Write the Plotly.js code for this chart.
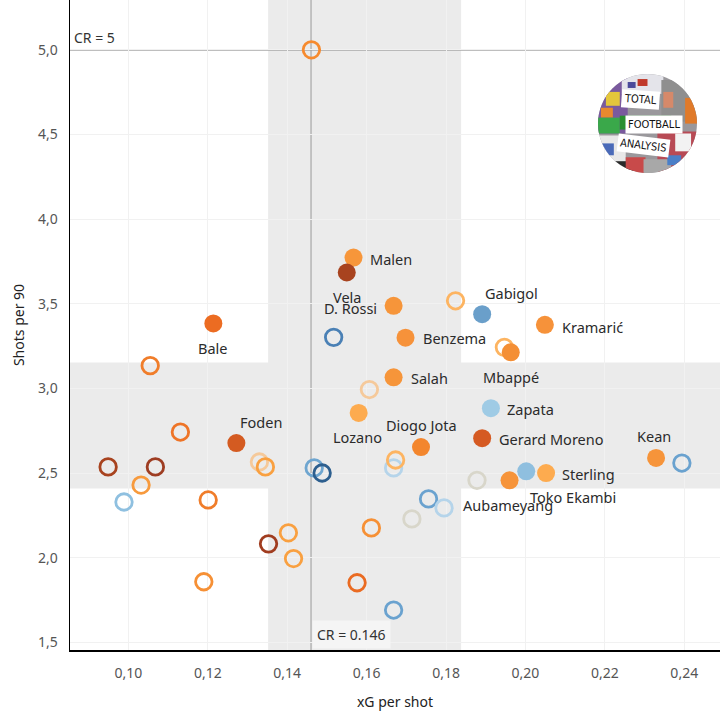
<!DOCTYPE html>
<html>
<head>
<meta charset="utf-8">
<script src="https://cdn.plot.ly/plotly-3.0.1.min.js"></script>
<style>html,body{margin:0;padding:0;background:#fff;}#chart{width:720px;height:721px;}</style>
</head>
<body>
<div id="chart"></div>
<script>
// ---- Data ----
const labeledNames = ["Malen","Vela","D. Rossi","Gabigol","Kramarić","Benzema","Mbappé","Salah","Zapata","Lozano","Diogo Jota","Gerard Moreno","Kean","Sterling","Toko Ekambi","Aubameyang","Bale","Foden"];
const labeledXg = [0.1567,0.1550,0.1668,0.1891,0.2049,0.1698,0.1963,0.1668,0.1913,0.1580,0.1737,0.1891,0.2329,0.2052,0.2002,0.1960,0.1214,0.1272];
const labeledShots = [3.773,3.685,3.488,3.439,3.376,3.300,3.214,3.066,2.884,2.856,2.654,2.707,2.590,2.501,2.511,2.458,3.384,2.678];

const otherXg = [0.1461,0.1055,0.1131,0.0949,0.1068,0.1032,0.0989,0.1201,0.1330,0.1345,0.1190,0.1353,0.1403,0.1416,0.1468,0.1488,0.1517,0.1607,0.1668,0.1673,0.1612,0.1576,0.1668,0.1714,0.1756,0.1795,0.1824,0.1947,0.1878,0.2394];
const otherShots = [5.0,3.135,2.743,2.537,2.537,2.430,2.330,2.342,2.566,2.537,1.859,2.083,2.148,1.996,2.531,2.501,3.302,2.994,2.531,2.578,2.177,1.853,1.692,2.230,2.348,2.295,3.518,3.243,2.458,2.560];

const crXg = 0.146;
const crShots = 5;
const bandXg = [0.1352, 0.1838];
const bandShots = [2.409, 3.153];

const xTickVals = [0.10,0.12,0.14,0.16,0.18,0.20,0.22,0.24];
const yTickVals = [1.5,2.0,2.5,3.0,3.5,4.0,4.5,5.0];

// ---- Styles ----
const labeledColors = ["#f7963a","#a8431f","#f6953a","#6a9fca","#f6923a","#f6923a","#f48f35","#f6953a","#9fcbe5","#fdab4f","#f3862d","#d55a22","#f6943a","#fdab4f","#8fbfdf","#f6943a","#ec6c22","#d45b21"];
const otherColors = ["#f68a2e","#f07d2a","#ee7427","#a8431f","#9e3d22","#f79a3d","#8fc0e0","#f07d2a","#f5c99a","#f9a040","#f69035","#a03c1f","#f9a040","#f9a040","#6fa6d0","#2d5f8f","#4a80b5","#f5c99a","#b5d4ea","#fdb461","#f69035","#ea6b22","#6aa2cf","#d8d6ca","#6aa2cf","#b5d4ea","#fdb461","#fdb461","#d8d6ca","#6aa2cf"];

// label placement relative to each labelled mark: [xanchor, xshift, yshift]
const labelPlace = [
  ["left",14,-1],["center",0,-24],["right",-15,-2],["left",1,21],["left",15,-2.6],
  ["left",15,0],["center",0,-25],["left",15,-1],["left",14,-0.7],["center",-1,-24],
  ["center",0,22],["left",15,-0.7],["center",-2,21.6],["left",14,-1.4],["left",1.6,-25.6],
  ["center",-1.3,-25],["center",-1,-24.7],["left",1.7,21]
];

const FONT = "Noto Sans, Open Sans, sans-serif";

const traces = [
  {
    type: "scatter", mode: "markers",
    x: otherXg, y: otherShots,
    marker: {symbol: "circle-open", size: 16.5, color: otherColors, line: {width: 2.8, color: otherColors}},
    hoverinfo: "x+y", showlegend: false
  },
  {
    type: "scatter", mode: "markers",
    x: labeledXg, y: labeledShots, text: labeledNames,
    marker: {symbol: "circle", size: 18, color: labeledColors, line: {width: 0}},
    hoverinfo: "text+x+y", showlegend: false
  }
];

const annotations = labeledNames.map((n, i) => ({
  x: labeledXg[i], y: labeledShots[i], xref: "x", yref: "y",
  text: n, showarrow: false,
  xanchor: labelPlace[i][0], yanchor: "middle",
  xshift: labelPlace[i][1], yshift: labelPlace[i][2],
  font: {family: FONT, size: 14.5, color: "#2b2b2b"}
}));

annotations.push({
  x: 0, xref: "paper", y: crShots, yref: "y", text: "CR = " + crShots,
  showarrow: false, xanchor: "left", yanchor: "bottom", xshift: 2, yshift: 1,
  font: {family: FONT, size: 14, color: "#333"}
});
annotations.push({
  x: crXg, xref: "x", y: 0, yref: "paper", text: "CR = " + crXg,
  showarrow: false, xanchor: "left", yanchor: "bottom", xshift: 1, yshift: 1,
  bgcolor: "#f5f5f5", borderpad: 4,
  font: {family: FONT, size: 14, color: "#333"}
});

// logo banners (real text over a collage image)
const logoFont = {family: "DejaVu Sans Condensed, DejaVu Sans, sans-serif", size: 11, color: "#111"};
annotations.push({x: 0.2290, y: 4.706, xref: "x", yref: "y", text: "TOTAL", showarrow: false, bgcolor: "#fff", borderpad: 2, textangle: 4, font: logoFont});
annotations.push({x: 0.2325, y: 4.558, xref: "x", yref: "y", text: "FOOTBALL", showarrow: false, bgcolor: "#fff", borderpad: 2, font: logoFont});
annotations.push({x: 0.2297, y: 4.435, xref: "x", yref: "y", text: "ANALYSIS", showarrow: false, bgcolor: "#fff", borderpad: 2, textangle: 7, font: logoFont});

const collage =
  '<svg xmlns="http://www.w3.org/2000/svg" viewBox="0 0 100 100">' +
  '<defs><clipPath id="c"><circle cx="50" cy="50" r="50"/></clipPath></defs>' +
  '<g clip-path="url(#c)">' +
  '<rect width="100" height="100" fill="#9a989c"/>' +
  '<rect x="0" y="0" width="30" height="60" fill="#7a5a9e"/>' +
  '<rect x="8" y="18" width="14" height="14" fill="#e4c63b"/>' +
  '<rect x="3" y="34" width="12" height="10" fill="#e8892f"/>' +
  '<rect x="0" y="44" width="22" height="16" fill="#3aa84a"/>' +
  '<rect x="24" y="0" width="42" height="20" fill="#e4e4ea"/>' +
  '<rect x="40" y="5" width="10" height="7" fill="#c0392b"/>' +
  '<rect x="30" y="8" width="8" height="6" fill="#4a4a9a"/>' +
  '<rect x="64" y="6" width="36" height="42" fill="#8f8f8f"/>' +
  '<rect x="66" y="18" width="10" height="16" fill="#d6896a"/>' +
  '<rect x="88" y="24" width="12" height="26" fill="#e07a2a"/>' +
  '<rect x="22" y="42" width="52" height="14" fill="#2a8f30"/>' +
  '<rect x="0" y="62" width="28" height="38" fill="#e8e8e8"/>' +
  '<rect x="4" y="70" width="12" height="12" fill="#4a6ab8"/>' +
  '<rect x="0" y="88" width="36" height="12" fill="#2a2a2a"/>' +
  '<rect x="28" y="84" width="20" height="16" fill="#c84a4a"/>' +
  '<rect x="60" y="58" width="40" height="42" fill="#b84a55"/>' +
  '<rect x="78" y="60" width="16" height="18" fill="#f2f2f2"/>' +
  '<rect x="46" y="86" width="28" height="14" fill="#a8a8a8"/>' +
  '<rect x="70" y="82" width="14" height="10" fill="#4a7fc8"/>' +
  '</g></svg>';

const layout = {
  width: 720, height: 721,
  margin: {l: 70, r: 0, t: 0, b: 71, pad: 0},
  paper_bgcolor: "#fff", plot_bgcolor: "#fff",
  separators: ", ",
  font: {family: FONT, color: "#333"},
  showlegend: false,
  xaxis: {
    range: [0.0853, 0.249], tickvals: xTickVals, tickformat: ".2f",
    showgrid: true, gridcolor: "#f1f1f1", gridwidth: 1, zeroline: false,
    showline: true, linecolor: "#000", linewidth: 2.2,
    ticks: "", ticklabelstandoff: 9,
    tickfont: {family: FONT, size: 14, color: "#555"},
    title: {text: "xG per shot", standoff: 16, font: {family: FONT, size: 14, color: "#222"}}
  },
  yaxis: {
    range: [1.456, 5.294], tickvals: yTickVals, tickformat: ".1f",
    showgrid: true, gridcolor: "#f1f1f1", gridwidth: 1, zeroline: false,
    showline: true, linecolor: "#000", linewidth: 1.5,
    ticks: "", ticklabelstandoff: 8,
    tickfont: {family: FONT, size: 14, color: "#555"},
    title: {text: "Shots per 90", standoff: 10, font: {family: FONT, size: 14, color: "#222"}}
  },
  shapes: [
    {type: "rect", xref: "x", yref: "paper", x0: bandXg[0], x1: bandXg[1], y0: 0, y1: 1, fillcolor: "#ebebeb", line: {width: 0}, layer: "below"},
    {type: "rect", xref: "paper", yref: "y", x0: 0, x1: 1, y0: bandShots[0], y1: bandShots[1], fillcolor: "#ebebeb", line: {width: 0}, layer: "below"},
    {type: "line", xref: "paper", yref: "y", x0: 0, x1: 1, y0: crShots, y1: crShots, line: {color: "#a9a9a9", width: 1.8}, layer: "between"},
    {type: "line", xref: "x", yref: "paper", x0: crXg, x1: crXg, y0: 0, y1: 1, line: {color: "#999", width: 1}, layer: "between"}
  ],
  images: [{
    source: "data:image/svg+xml;charset=utf-8," + encodeURIComponent(collage),
    xref: "paper", yref: "paper", x: 0.8123, y: 0.886, sizex: 0.1523, sizey: 0.1523,
    xanchor: "left", yanchor: "top", sizing: "stretch", layer: "above"
  }],
  annotations: annotations
};

Plotly.newPlot("chart", traces, layout, {displayModeBar: false, staticPlot: true});
</script>
</body>
</html>
